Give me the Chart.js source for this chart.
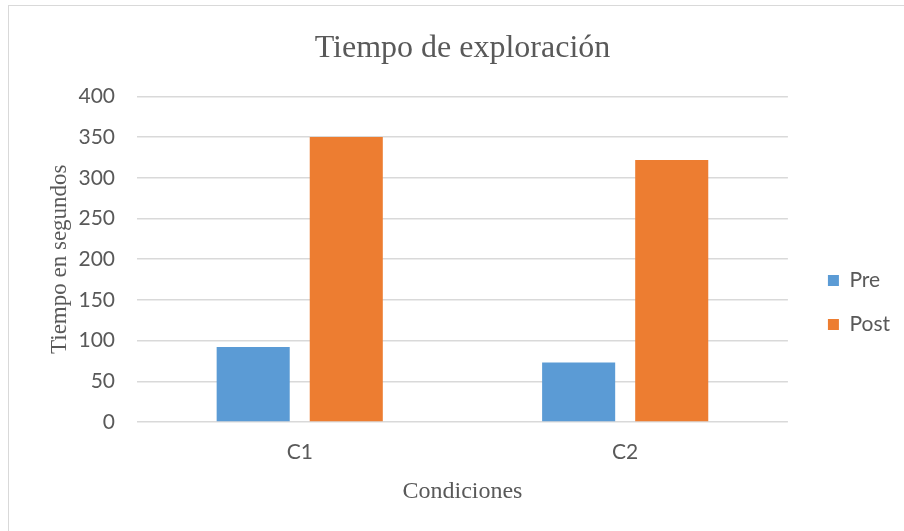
<!DOCTYPE html>
<html>
<head>
<meta charset="utf-8">
<script src="https://cdn.jsdelivr.net/npm/chart.js@4/dist/chart.umd.min.js"></script>
<style>
  html, body { margin: 0; padding: 0; background: #ffffff; }
  #wrap { position: relative; width: 904px; height: 531px; overflow: hidden; }
  #frame { position: absolute; left: 8px; top: 5px; width: 1000px; height: 1000px;
           border-left: 1px solid #d9d9d9; border-top: 1px solid #d9d9d9; }
  canvas { position: absolute; left: 0; top: 0; }
</style>
</head>
<body>
<div id="wrap">
  <div id="frame"></div>
  <canvas id="chart" width="904" height="531"></canvas>
</div>
<script>
// Exploration time per condition, before and after
const categories = ['C1', 'C2'];
const preValues = [92, 73];
const postValues = [350, 322];
const seriesNames = ['Pre', 'Post'];

const textGray = '#595959';
const gridGray = '#d9d9d9';
const sans = 'Lato, "Open Sans", sans-serif';
const serif = '"Liberation Serif", "DejaVu Serif", serif';

// Reserve a wider strip for the legend and nudge its items away from the plot
const legendStrip = {
  id: 'legendStrip',
  beforeInit(chart) {
    const legend = chart.legend;
    const fit = legend.fit;
    legend.fit = function () {
      fit.call(this);
      this.width += 21;
    };
  },
  afterLayout(chart) {
    chart.legend.left += 17;
    chart.legend.right += 17;
  }
};

new Chart(document.getElementById('chart'), {
  type: 'bar',
  data: {
    labels: categories,
    datasets: [
      { label: seriesNames[0], data: preValues, backgroundColor: '#5b9bd5',
        categoryPercentage: 0.572, barPercentage: 0.785 },
      { label: seriesNames[1], data: postValues, backgroundColor: '#ed7d31',
        categoryPercentage: 0.572, barPercentage: 0.785 }
    ]
  },
  plugins: [legendStrip],
  options: {
    responsive: false,
    animation: false,
    layout: { padding: { left: 0, right: 0, top: 0, bottom: 0 } },
    plugins: {
      title: {
        display: true,
        text: 'Tiempo de exploración',
        fullSize: false,
        color: textGray,
        font: { family: serif, size: 32, weight: 'normal' },
        padding: { top: 29, bottom: 29 }
      },
      legend: {
        position: 'right',
        title: {
          display: true,
          text: ' ',
          font: { size: 10 },
          padding: { top: 62, bottom: 0 }
        },
        labels: {
          color: textGray,
          font: { family: sans, size: 21 },
          boxWidth: 11,
          boxHeight: 11,
          padding: 23
        }
      },
      tooltip: { enabled: false }
    },
    scales: {
      x: {
        grid: { display: false, drawTicks: false },
        border: { display: false },
        ticks: { color: textGray, font: { family: sans, size: 21 }, padding: 18 },
        title: {
          display: true,
          text: 'Condiciones',
          color: textGray,
          font: { family: serif, size: 24 },
          padding: { top: 0, bottom: 25 }
        },
        afterFit: (s) => { s.height = 109; }
      },
      y: {
        min: 0,
        max: 400,
        ticks: { stepSize: 50, color: textGray, font: { family: sans, size: 21 }, padding: 22 },
        grid: { color: gridGray, lineWidth: 1.5, drawTicks: false },
        border: { display: false },
        title: {
          display: true,
          text: 'Tiempo en segundos',
          color: textGray,
          font: { family: serif, size: 23 },
          padding: { top: 46, bottom: 0 }
        },
        afterFit: (s) => { s.width = 137; }
      }
    }
  }
});
</script>
</body>
</html>
